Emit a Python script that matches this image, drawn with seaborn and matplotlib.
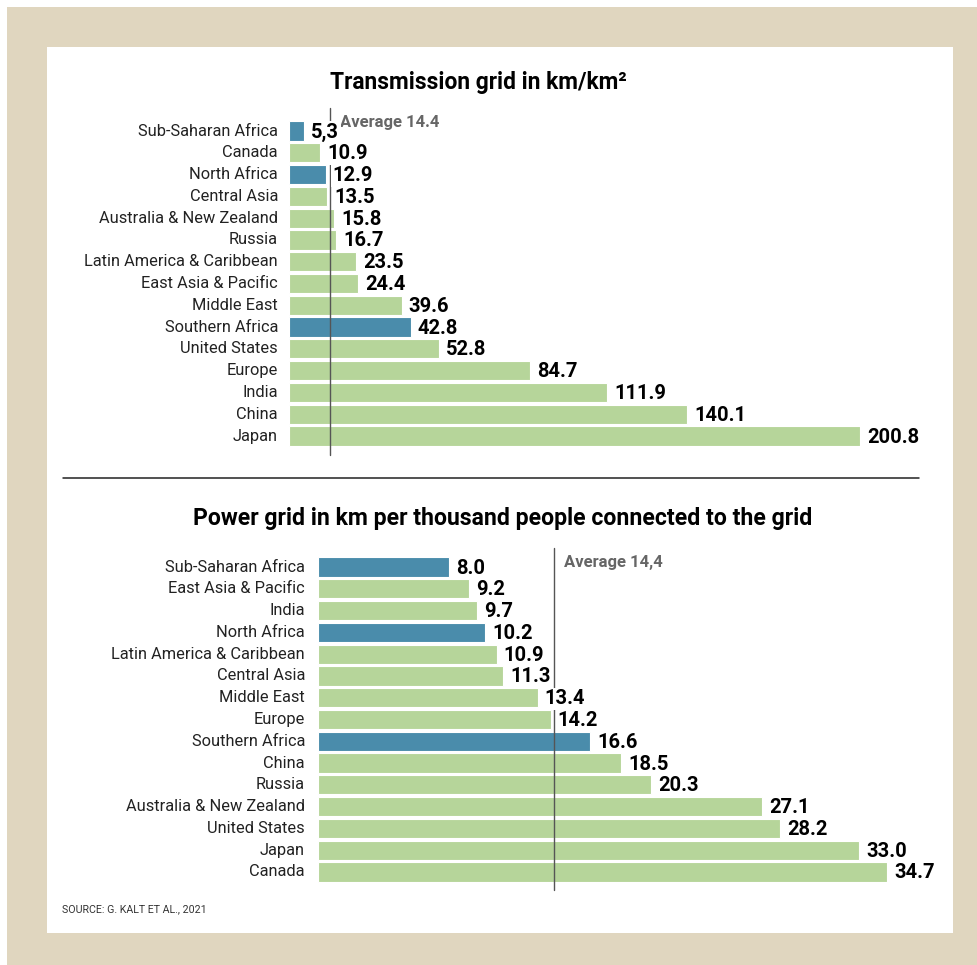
import matplotlib
matplotlib.use("Agg")
import matplotlib.pyplot as plt
import seaborn as sns
import pandas as pd
from matplotlib.patches import Rectangle
from matplotlib.lines import Line2D

# ---- data ----
top_regions = ["Sub-Saharan Africa", "Canada", "North Africa", "Central Asia",
               "Australia & New Zealand", "Russia", "Latin America & Caribbean",
               "East Asia & Pacific", "Middle East", "Southern Africa",
               "United States", "Europe", "India", "China", "Japan"]
top_values = [5.3, 10.9, 12.9, 13.5, 15.8, 16.7, 23.5, 24.4, 39.6, 42.8,
              52.8, 84.7, 111.9, 140.1, 200.8]
top_labels = ["5,3", "10.9", "12.9", "13.5", "15.8", "16.7", "23.5", "24.4",
              "39.6", "42.8", "52.8", "84.7", "111.9", "140.1", "200.8"]
top_africa = ["Sub-Saharan Africa", "North Africa", "Southern Africa"]
top_average = 14.4
top_average_label = "Average 14.4"

bottom_regions = ["Sub-Saharan Africa", "East Asia & Pacific", "India",
                  "North Africa", "Latin America & Caribbean", "Central Asia",
                  "Middle East", "Europe", "Southern Africa", "China", "Russia",
                  "Australia & New Zealand", "United States", "Japan", "Canada"]
bottom_values = [8.0, 9.2, 9.7, 10.2, 10.9, 11.3, 13.4, 14.2, 16.6, 18.5,
                 20.3, 27.1, 28.2, 33.0, 34.7]
bottom_labels = ["8.0", "9.2", "9.7", "10.2", "10.9", "11.3", "13.4", "14.2",
                 "16.6", "18.5", "20.3", "27.1", "28.2", "33.0", "34.7"]
bottom_africa = ["Sub-Saharan Africa", "North Africa", "Southern Africa"]
bottom_average = 14.4
bottom_average_label = "Average 14,4"

top_title = "Transmission grid in km/km²"
bottom_title = "Power grid in km per thousand people connected to the grid"
source = "SOURCE: G. KALT ET AL., 2021"

# ---- styling ----
BEIGE = "#e0d6bf"
GREEN = "#b6d59a"
BLUE = "#4a8cab"
GREY = "#666666"
FONT = ["Roboto", "DejaVu Sans"]

sns.set_theme(style="white")
plt.rcParams["font.family"] = FONT

W, H = 978, 965
fig = plt.figure(figsize=(W / 100, H / 100), dpi=100)
fig.patch.set_facecolor("white")


def fx(px):
    return px / W


def fy(py):
    return 1 - py / H


# frame: beige border around a white panel
fig.patches.append(Rectangle((fx(7), fy(965)), fx(971), 958 / H,
                             transform=fig.transFigure, facecolor=BEIGE,
                             edgecolor="none", zorder=-10))
fig.patches.append(Rectangle((fx(47), fy(933)), fx(906), 886 / H,
                             transform=fig.transFigure, facecolor="white",
                             edgecolor="none", zorder=-9))


def panel(x0, x1, y_first, y_last, regions, values, labels, africa, avg,
          avg_label, line_top, line_bot, label_gap):
    n = len(regions)
    step = (y_last - y_first) / (n - 1)
    top_px = y_first - step / 2
    bot_px = y_last + step / 2
    ax = fig.add_axes([fx(x0), fy(bot_px), fx(x1) - fx(x0),
                       (bot_px - top_px) / H])
    df = pd.DataFrame({"region": regions, "value": values,
                       "group": ["a" if r in africa else "o" for r in regions]})
    sns.barplot(data=df, x="value", y="region", hue="group",
                palette={"a": BLUE, "o": GREEN}, dodge=False, width=0.88,
                orient="h", legend=False, ax=ax, edgecolor="white",
                linewidth=0.8, saturation=1)
    ax.set_xlim(0, max(values))
    ax.set_ylim(n - 0.5, -0.5)
    ax.axis("off")
    # average line sits above the bars but below the value labels
    yt = (line_top - y_first) / step
    yb = (line_bot - y_first) / step
    ax.add_line(Line2D([avg, avg], [yt, yb], color="#555555", lw=1.0,
                       clip_on=False, zorder=3))
    ax.annotate(avg_label, xy=(avg, yt), xytext=(10, -7),
                textcoords="offset pixels", ha="left", va="top",
                fontsize=12, fontweight="bold", color=GREY,
                annotation_clip=False, zorder=4)
    for i, (r, v, t) in enumerate(zip(regions, values, labels)):
        ax.annotate(t, xy=(v, i), xytext=(7, -1),
                    textcoords="offset pixels", ha="left", va="center",
                    fontsize=14.5, fontweight="bold", color="black",
                    annotation_clip=False, zorder=5,
                    bbox=dict(facecolor="white", edgecolor="none",
                              boxstyle="square,pad=0.08"))
        ax.annotate(r, xy=(0, i), xytext=(-label_gap, 0),
                    textcoords="offset pixels", ha="right", va="center",
                    fontsize=11.8, color="#222222", annotation_clip=False)
    return ax


panel(289, 860, 131, 436, top_regions, top_values, top_labels, top_africa,
      top_average, top_average_label, 108, 455, 11)
panel(318, 887, 567, 872, bottom_regions, bottom_values, bottom_labels,
      bottom_africa, bottom_average, bottom_average_label, 548, 890, 13)

fig.text(fx(478), fy(83), top_title, ha="center", va="center", fontsize=16.4,
         fontweight="bold", color="black")
fig.text(fx(503), fy(518), bottom_title, ha="center", va="center",
         fontsize=16.6, fontweight="bold", color="black")
fig.add_artist(Line2D([fx(63), fx(919)], [fy(478), fy(478)],
                      transform=fig.transFigure, color="#222222", lw=1.1))
fig.text(fx(62), fy(909), source, ha="left", va="center", fontsize=7.7,
         color="#333333")

fig.savefig("out.png", dpi=100, facecolor="white")
